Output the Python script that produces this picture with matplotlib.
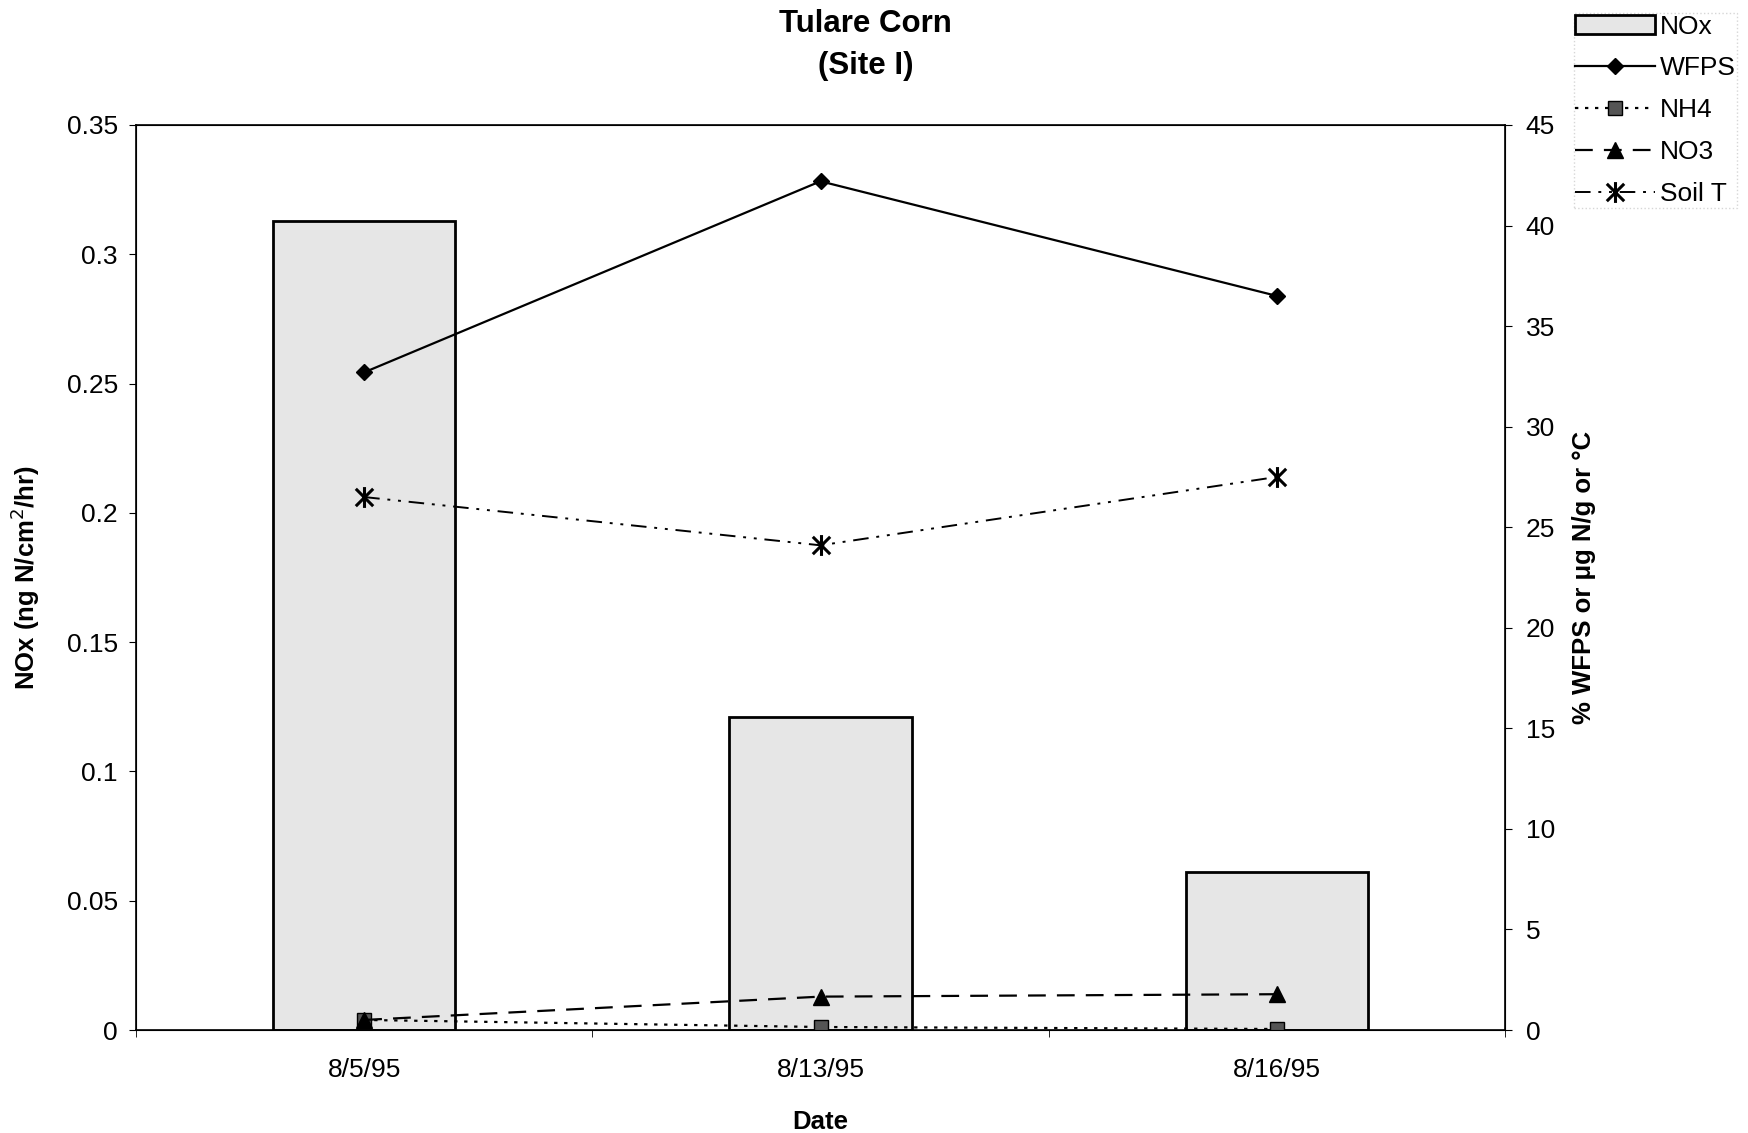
import matplotlib.pyplot as plt
import numpy as np
from matplotlib.path import Path

plt.rcParams['font.family'] = ['Liberation Sans', 'DejaVu Sans']

dates = ['8/5/95', '8/13/95', '8/16/95']
nox = [0.313, 0.121, 0.061]
wfps = [32.7, 42.2, 36.5]
nh4 = [0.5, 0.15, 0.05]
no3 = [0.5, 1.66, 1.78]
soil_t = [26.5, 24.1, 27.5]

# asterisk marker: X with a vertical stroke
star = Path([(-1, -1), (1, 1), (-1, 1), (1, -1), (0, -1.2), (0, 1.2)],
            [Path.MOVETO, Path.LINETO, Path.MOVETO, Path.LINETO, Path.MOVETO, Path.LINETO])

fig = plt.figure(figsize=(17.48, 11.33), dpi=100)
ax = fig.add_axes([0.0778, 0.0909, 0.7832, 0.7988])
x = np.arange(len(dates))

bars = ax.bar(x, nox, width=0.4, color='#e6e6e6', edgecolor='black', linewidth=2, label='NOx')
ax.set_xlim(-0.5, 2.5)
ax.set_ylim(0, 0.35)
ax.set_yticks(np.arange(0, 0.351, 0.05))
ax.set_yticklabels(['0', '0.05', '0.1', '0.15', '0.2', '0.25', '0.3', '0.35'])
ax.set_xticks(x)
ax.set_xticklabels(dates)
ax.set_xticks([-0.5, 0.5, 1.5, 2.5], minor=True)
ax.tick_params(axis='x', which='major', length=0, labelsize=19, pad=20)
ax.tick_params(axis='x', which='minor', length=5, direction='out')
ax.tick_params(axis='y', labelsize=19, length=5, direction='out', pad=8)
ax.set_xlabel('Date', fontsize=18.5, fontweight='bold', labelpad=20)
ax.set_ylabel('NOx (ng N/cm$^2$/hr)', fontsize=18.5, fontweight='bold', labelpad=18)
for s in ax.spines.values():
    s.set_linewidth(1.2)

ax2 = ax.twinx()
ax2.set_ylim(0, 45)
ax2.set_yticks(range(0, 46, 5))
ax2.tick_params(axis='y', labelsize=19, length=5, direction='out', pad=10)
ax2.set_ylabel('% WFPS or \u03bcg N/g or \u00b0C', fontsize=18.5, fontweight='bold', labelpad=12)

l1, = ax2.plot(x, wfps, color='black', lw=1.6, marker='D', ms=8, label='WFPS')
l2, = ax2.plot(x, nh4, color='black', lw=1.6, ls=(0, (1.5, 3)), marker='s', ms=10,
               mfc='#555555', mec='black', label='NH4')
l3, = ax2.plot(x, no3, color='black', lw=1.6, ls=(0, (8, 5)), marker='^', ms=12, label='NO3')
l4, = ax2.plot(x, soil_t, color='black', lw=1.4, ls=(0, (8, 4, 1.5, 4, 1.5, 4)),
               marker=star, ms=15, mew=2.2, label='Soil T')

fig.text(0.495, 0.979, 'Tulare Corn', ha='center', va='center', fontsize=22.5, fontweight='bold')
fig.text(0.495, 0.942, '(Site I)', ha='center', va='center', fontsize=22.5, fontweight='bold')

leg = fig.legend([bars, l1, l2, l3, l4], ['NOx', 'WFPS', 'NH4', 'NO3', 'Soil T'],
                 loc='upper left', bbox_to_anchor=(0.893, 1.0), fontsize=19,
                 frameon=True, handlelength=3.0, handletextpad=0.2, labelspacing=0.68,
                 borderpad=0.05, fancybox=False)
leg.get_frame().set_edgecolor('#cccccc')
leg.get_frame().set_linestyle(':')

fig.savefig('out.png', dpi=100)
